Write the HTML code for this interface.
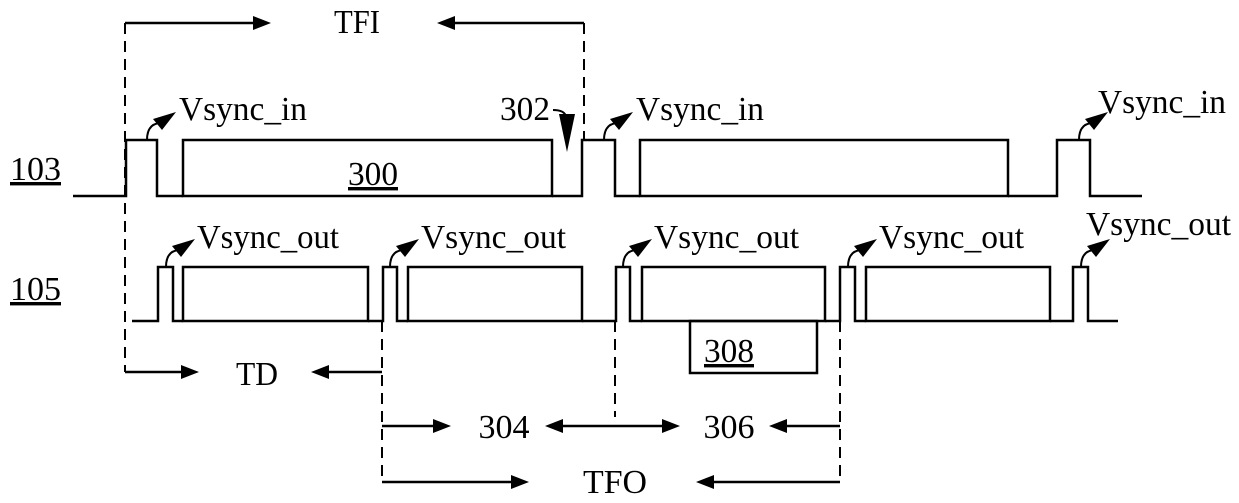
<!DOCTYPE html>
<html><head><style>
html,body{margin:0;padding:0;background:#fff;}
svg{display:block;}
text{font-family:"Liberation Serif",serif;fill:#000;}
</style></head><body>
<svg width="1239" height="503" viewBox="0 0 1239 503" xmlns="http://www.w3.org/2000/svg">
<g fill="none" stroke="#000" stroke-width="2.5">
<polyline points="73,196 126,196 126,140 157,140 157,196 183,196"/>
<rect x="183" y="140" width="369" height="56"/>
<polyline points="552,196 582,196 582,140 615,140 615,196 640,196"/>
<rect x="640" y="140" width="368" height="56"/>
<polyline points="1008,196 1057,196 1057,140 1090,140 1090,196 1142,196"/>
<polyline points="132,321 158,321 158,267 173,267 173,321 183,321"/>
<rect x="183" y="267" width="185" height="54"/>
<polyline points="368,321 383,321 383,267 397,267 397,321 408,321"/>
<rect x="408" y="267" width="174" height="54"/>
<polyline points="582,321 616,321 616,267 630,267 630,321 642,321"/>
<rect x="642" y="267" width="183" height="54"/>
<polyline points="825,321 840,321 840,267 855,267 855,321 866,321"/>
<rect x="866" y="267" width="184" height="54"/>
<polyline points="1050,321 1073,321 1073,267 1088,267 1088,321 1118,321"/>
<rect x="690" y="321" width="127" height="52"/>
</g>
<g stroke="#000" stroke-width="2" stroke-dasharray="11,7" fill="none">
<line x1="125" y1="23" x2="125" y2="372"/>
<line x1="584" y1="23" x2="584" y2="140"/>
<line x1="382" y1="321" x2="382" y2="482"/>
<line x1="615" y1="321" x2="615" y2="417"/>
<line x1="840" y1="321" x2="840" y2="482"/>
</g>
<g stroke="#000" stroke-width="2.5" fill="none">
<line x1="125" y1="23" x2="255" y2="23"/>
<line x1="453" y1="23" x2="584" y2="23"/>
<line x1="125" y1="372" x2="183" y2="372"/>
<line x1="327" y1="372" x2="382" y2="372"/>
<line x1="382" y1="426" x2="435" y2="426"/>
<line x1="561" y1="426" x2="664" y2="426"/>
<line x1="785" y1="426" x2="840" y2="426"/>
<line x1="382" y1="482" x2="513" y2="482"/>
<line x1="712" y1="482" x2="840" y2="482"/>
</g>
<g fill="#000">
<polygon points="271,23 253,16 253,30"/>
<polygon points="437,23 455,16 455,30"/>
<polygon points="199,372 181,365 181,379"/>
<polygon points="311,372 329,365 329,379"/>
<polygon points="451,426 433,419 433,433"/>
<polygon points="545,426 563,419 563,433"/>
<polygon points="680,426 662,419 662,433"/>
<polygon points="769,426 787,419 787,433"/>
<polygon points="529,482 511,475 511,489"/>
<polygon points="696,482 714,475 714,489"/>
</g>
<g stroke="#000" stroke-width="2" fill="none">
<path d="M147,140 Q147,124 160,123"/>
<path d="M604,140 Q604,124 617,123"/>
<path d="M1079,140 Q1079,124 1092,123"/>
<path d="M166,267 Q166,251 179,250"/>
<path d="M390,267 Q390,251 403,250"/>
<path d="M623,267 Q623,251 636,250"/>
<path d="M848,267 Q848,251 861,250"/>
<path d="M1081,267 Q1081,251 1094,250"/>
<path d="M553,110 Q565,110 566,117"/>
</g>
<g fill="#000">
<polygon points="176,112 153,119 162,130"/>
<polygon points="633,112 610,119 619,130"/>
<polygon points="1108,112 1085,119 1094,130"/>
<polygon points="195,239 172,246 181,257"/>
<polygon points="419,239 396,246 405,257"/>
<polygon points="652,239 629,246 638,257"/>
<polygon points="877,239 854,246 863,257"/>
<polygon points="1110,239 1087,246 1096,257"/>
<polygon points="567,152 559,114 575,114"/>
</g>
<g font-size="34">
<text x="357" y="33" text-anchor="middle" textLength="46" lengthAdjust="spacingAndGlyphs">TFI</text>
<text x="257" y="385" text-anchor="middle" textLength="42" lengthAdjust="spacingAndGlyphs">TD</text>
<text x="504" y="438" text-anchor="middle" textLength="51" lengthAdjust="spacingAndGlyphs">304</text>
<text x="729" y="438" text-anchor="middle" textLength="51" lengthAdjust="spacingAndGlyphs">306</text>
<text x="615" y="493" text-anchor="middle" textLength="64" lengthAdjust="spacingAndGlyphs">TFO</text>
<text x="179" y="120" textLength="128" lengthAdjust="spacingAndGlyphs">Vsync_in</text>
<text x="636" y="120" textLength="128" lengthAdjust="spacingAndGlyphs">Vsync_in</text>
<text x="1098" y="113" textLength="128" lengthAdjust="spacingAndGlyphs">Vsync_in</text>
<text x="500" y="120" textLength="50" lengthAdjust="spacingAndGlyphs">302</text>
<text x="197" y="248" textLength="142" lengthAdjust="spacingAndGlyphs">Vsync_out</text>
<text x="421" y="248" textLength="145" lengthAdjust="spacingAndGlyphs">Vsync_out</text>
<text x="654" y="248" textLength="145" lengthAdjust="spacingAndGlyphs">Vsync_out</text>
<text x="879" y="248" textLength="145" lengthAdjust="spacingAndGlyphs">Vsync_out</text>
<text x="1086" y="235" textLength="145" lengthAdjust="spacingAndGlyphs">Vsync_out</text>
<text x="348" y="185" text-decoration="underline" textLength="50" lengthAdjust="spacingAndGlyphs">300</text>
<text x="729" y="362" text-decoration="underline" text-anchor="middle" textLength="50" lengthAdjust="spacingAndGlyphs">308</text>
<text x="10" y="180" text-decoration="underline" textLength="51" lengthAdjust="spacingAndGlyphs">103</text>
<text x="10" y="300" text-decoration="underline" textLength="51" lengthAdjust="spacingAndGlyphs">105</text>
</g>
</svg>
</body></html>
